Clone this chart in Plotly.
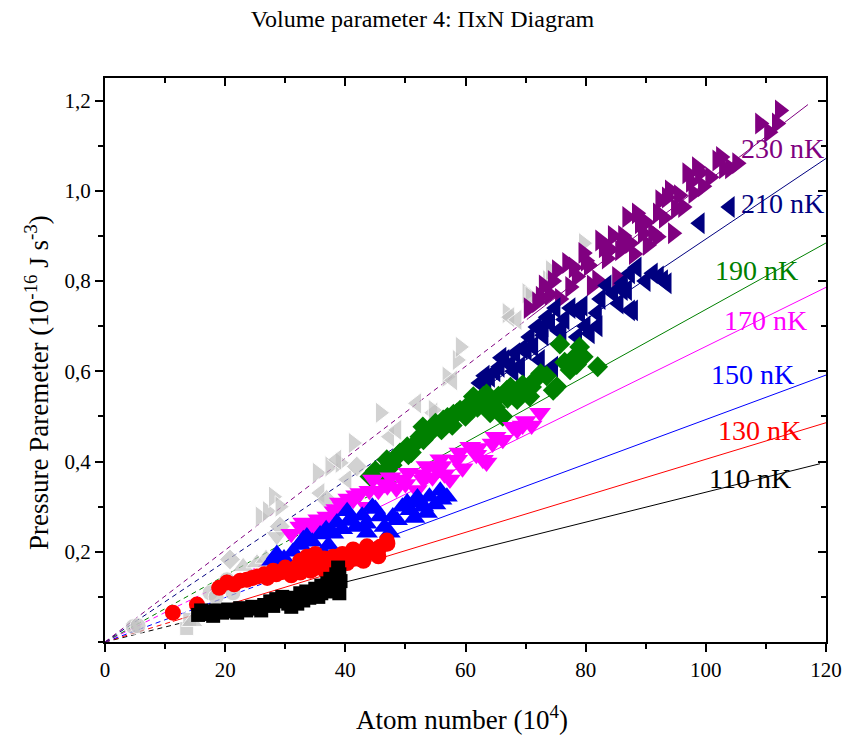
import plotly.graph_objects as go

# ---- data: atom number (10^4) vs pressure parameter (10^-16 J s^-3) ----
temps = ["110 nK", "130 nK", "150 nK", "170 nK", "190 nK", "210 nK", "230 nK"]
colors = ["#000000", "#FF0000", "#0000FF", "#FF00FF", "#008000", "#000080", "#800080"]
symbols = ["square", "circle", "triangle-up", "triangle-down", "diamond", "triangle-left", "triangle-right"]

x_110 = [15.5, 16.5, 17.5, 18.5, 19.5, 20.5, 21.5, 22.5, 23.5, 24.5, 25.5, 26.5, 27.5, 28.5, 29.5, 30.5, 31.0,
         31.5, 32.5, 33.0, 33.5, 34.5, 35.0, 35.5, 36.0, 36.5, 37.0, 37.5, 38.0, 38.5, 38.8, 39.0, 39.2,
         16.0, 18.0, 22.0, 26.0, 28.0, 30.0, 32.0, 34.0, 36.0, 37.8, 39.0]
y_110 = [0.060, 0.068, 0.062, 0.070, 0.065, 0.072, 0.068, 0.075, 0.070, 0.078, 0.074, 0.082, 0.090, 0.095, 0.100,
         0.085, 0.078, 0.098, 0.108, 0.092, 0.112, 0.105, 0.118, 0.100, 0.125, 0.115, 0.130, 0.140, 0.122, 0.150,
         0.165, 0.108, 0.135,
         0.070, 0.058, 0.065, 0.070, 0.080, 0.090, 0.085, 0.098, 0.108, 0.112, 0.150]

x_130 = [11.3, 15.3, 19.0, 20.3, 21.5, 22.5, 23.6, 24.5, 25.3, 26.5, 27.0, 28.5, 29.5, 30.3, 31.0, 31.8, 32.5, 33.0,
         33.6, 34.2, 34.7, 35.3, 35.8, 36.5, 37.2, 38.0, 38.8, 39.5, 40.3, 41.3, 42.0, 42.8, 43.6, 44.6, 45.5, 47.0,
         28.0, 30.0, 32.5, 34.1, 35.0, 36.5, 37.4, 39.0, 41.3, 43.0, 44.0, 45.8, 46.9]
y_130 = [0.065, 0.083, 0.120, 0.132, 0.128, 0.136, 0.138, 0.142, 0.145, 0.150, 0.142, 0.150, 0.155, 0.160, 0.148,
         0.165, 0.154, 0.172, 0.189, 0.158, 0.162, 0.175, 0.167, 0.160, 0.180, 0.189, 0.172, 0.195, 0.175, 0.205,
         0.185, 0.200, 0.212, 0.198, 0.190, 0.218,
         0.158, 0.165, 0.180, 0.183, 0.195, 0.185, 0.160, 0.170, 0.189, 0.180, 0.205, 0.211, 0.225]

x_150 = [27.8, 28.6, 29.8, 31.3, 32.5, 33.6, 34.5, 35.8, 36.3, 37.2, 38.0, 38.6, 39.5, 40.3, 40.8, 41.8, 42.8, 43.5,
         44.5, 45.8, 46.5, 47.4, 48.6, 49.5, 50.8, 51.5, 52.5, 53.6, 54.0, 55.0, 55.8, 56.9,
         33.0, 36.8, 41.0, 43.6, 45.0, 47.9, 50.3, 52.0, 53.0, 56.0]
y_150 = [0.180, 0.195, 0.185, 0.200, 0.215, 0.234, 0.222, 0.238, 0.198, 0.215, 0.240, 0.265, 0.250, 0.290, 0.272,
         0.255, 0.280, 0.262, 0.300, 0.278, 0.255, 0.242, 0.270, 0.300, 0.292, 0.275, 0.310, 0.286, 0.322, 0.305,
         0.335, 0.322,
         0.228, 0.250, 0.268, 0.242, 0.295, 0.278, 0.309, 0.320, 0.300, 0.315]

x_170 = [31.0, 32.5, 33.5, 34.7, 36.0, 37.0, 38.2, 39.1, 39.6, 40.5, 41.3, 42.5, 43.6, 44.6, 45.5, 46.5, 47.5, 48.5,
         49.6, 50.5, 51.9, 52.8, 53.5, 54.5, 55.3, 55.8, 56.5, 57.4, 58.6, 59.5, 60.8, 61.8, 62.9, 63.5, 64.5, 66.2,
         67.9, 68.6, 70.0, 71.0, 72.4,
         33.0, 35.5, 38.5, 41.8, 44.0, 47.0, 50.0, 53.0, 56.0, 59.0, 62.0, 65.0, 69.5]
y_170 = [0.240, 0.256, 0.262, 0.256, 0.270, 0.278, 0.290, 0.309, 0.300, 0.318, 0.315, 0.330, 0.300, 0.360, 0.335,
         0.350, 0.365, 0.340, 0.360, 0.375, 0.337, 0.372, 0.390, 0.365, 0.382, 0.405, 0.372, 0.360, 0.404, 0.385,
         0.433, 0.415, 0.404, 0.398, 0.440, 0.448, 0.477, 0.470, 0.490, 0.480, 0.508,
         0.265, 0.272, 0.295, 0.325, 0.335, 0.345, 0.350, 0.360, 0.390, 0.420, 0.430, 0.455, 0.480]

x_190 = [44.1, 45.0, 46.0, 46.9, 47.8, 48.5, 49.1, 50.3, 51.0, 52.0, 52.4, 52.9, 53.8, 54.5, 55.0, 55.8, 56.3, 57.0,
         57.8, 58.6, 59.1, 60.0, 60.5, 61.3, 62.0, 62.8, 63.5, 64.1, 64.8, 65.5, 66.2, 66.9, 67.5, 68.6, 69.5, 70.7,
         71.5, 72.5, 74.6, 75.2, 75.7, 77.4, 78.2, 79.0, 79.6, 82.0,
         47.5, 50.5, 53.0, 56.0, 58.0, 61.0, 63.0, 65.0, 67.0, 69.0, 71.0, 73.5, 76.5, 78.5]
y_190 = [0.367, 0.380, 0.372, 0.404, 0.392, 0.410, 0.419, 0.433, 0.420, 0.445, 0.455, 0.477, 0.460, 0.470, 0.485,
         0.475, 0.492, 0.498, 0.480, 0.508, 0.514, 0.500, 0.525, 0.544, 0.520, 0.530, 0.550, 0.508, 0.535, 0.545,
         0.500, 0.558, 0.565, 0.537, 0.570, 0.544, 0.580, 0.595, 0.558, 0.566, 0.660, 0.603, 0.632, 0.654, 0.632,
         0.610,
         0.395, 0.415, 0.448, 0.470, 0.505, 0.515, 0.545, 0.520, 0.540, 0.560, 0.565, 0.590, 0.620, 0.615]

x_210 = [62.4, 63.2, 64.1, 65.0, 65.7, 66.5, 67.5, 68.3, 69.1, 70.2, 70.7, 71.3, 71.9, 72.4, 73.0, 73.6, 74.1, 74.6,
         75.5, 76.5, 77.5, 78.6, 78.6, 79.1, 80.0, 80.7, 81.9, 82.5, 84.6, 85.5, 86.2, 86.2, 86.9, 87.4, 87.4, 87.9,
         91.2, 92.2, 92.9, 99.0, 104.0,
         63.5, 66.0, 68.0, 69.5, 73.0, 75.0, 76.0, 79.5, 82.0, 83.5, 88.5, 90.0, 93.5]
y_210 = [0.574, 0.590, 0.588, 0.600, 0.610, 0.625, 0.615, 0.640, 0.610, 0.647, 0.676, 0.655, 0.698, 0.625, 0.680,
         0.720, 0.707, 0.610, 0.690, 0.715, 0.740, 0.676, 0.735, 0.729, 0.700, 0.684, 0.729, 0.760, 0.773, 0.750,
         0.795, 0.780, 0.780, 0.735, 0.817, 0.735, 0.817, 0.810, 0.802, 0.928, 0.964,
         0.575, 0.630, 0.600, 0.650, 0.700, 0.740, 0.690, 0.745, 0.700, 0.790, 0.830, 0.800, 0.795]

x_230 = [70.5, 71.9, 73.0, 74.0, 75.2, 75.7, 76.9, 77.4, 78.5, 79.6, 80.5, 81.0, 81.9, 82.4, 83.5, 84.0, 85.2, 85.7,
         86.2, 86.9, 87.4, 88.0, 89.0, 89.5, 90.3, 91.2, 91.9, 92.4, 93.0, 94.0, 94.5, 95.0, 96.2, 96.9, 97.9, 98.5,
         99.5, 100.7, 101.9, 103.0, 105.2, 109.0, 110.5, 111.8, 112.3,
         72.5, 74.5, 78.0, 80.0, 83.0, 84.5, 86.0, 88.5, 90.0, 92.0, 93.5, 95.5, 97.5, 99.0, 102.5, 104.0]
y_230 = [0.740, 0.753, 0.790, 0.770, 0.824, 0.760, 0.840, 0.787, 0.810, 0.862, 0.835, 0.790, 0.802, 0.890, 0.850,
         0.870, 0.809, 0.868, 0.900, 0.942, 0.884, 0.860, 0.928, 0.906, 0.880, 0.906, 0.898, 0.979, 0.940, 1.001,
         0.906, 0.960, 0.964, 1.039, 0.995, 1.052, 1.010, 1.030, 1.067, 1.050, 1.061, 1.149, 1.130, 1.149, 1.178,
         0.765, 0.800, 0.830, 0.845, 0.875, 0.900, 0.880, 0.950, 0.930, 0.950, 0.985, 0.990, 1.020, 1.040, 1.075,
         1.050]

# points left out of the fits (grey)
x_excl = [4.7, 5.5, 13.6, 14.1, 14.5, 17.5, 18.5, 20.3, 21.3, 20.8, 23.0, 25.3, 26.8, 25.8, 27.0, 28.0, 29.1, 29.1,
          28.6, 35.3, 35.8, 36.9, 37.4, 39.1, 38.6, 40.3, 41.3, 41.9, 45.8, 47.4, 48.6, 51.9, 52.4, 54.6, 54.6, 56.9,
          57.9, 58.6, 59.1, 66.9, 67.4, 68.6, 70.2, 70.7, 73.6, 74.1, 79.6]
y_excl = [0.034, 0.036, 0.030, 0.050, 0.045, 0.109, 0.100, 0.138, 0.109, 0.183, 0.167, 0.175, 0.185, 0.278, 0.290,
          0.322, 0.300, 0.256, 0.234, 0.375, 0.330, 0.315, 0.389, 0.397, 0.404, 0.360, 0.441, 0.389, 0.508, 0.455,
          0.470, 0.529, 0.455, 0.508, 0.514, 0.588, 0.580, 0.625, 0.654, 0.729, 0.720, 0.714, 0.773, 0.765, 0.802,
          0.824, 0.884]
sym_excl = ["circle", "circle", "square", "square", "triangle-up", "circle", "circle", "circle", "circle", "diamond",
            "triangle-up", "triangle-up", "triangle-up", "triangle-right", "triangle-right", "triangle-right",
            "triangle-right", "diamond", "triangle-down", "triangle-right", "triangle-left", "diamond",
            "triangle-right", "triangle-right", "triangle-left", "triangle-left", "triangle-right", "diamond",
            "triangle-right", "triangle-left", "triangle-left", "triangle-left", "diamond", "triangle-left",
            "triangle-right", "triangle-right", "triangle-left", "triangle-right", "triangle-right",
            "triangle-right", "triangle-left", "triangle-left", "triangle-right", "triangle-right",
            "triangle-right", "triangle-right", "triangle-right"]

# linear fits through the origin: slope, start and end of the fitted range
fit_slope = [0.00332, 0.00405, 0.00493, 0.00655, 0.00737, 0.00893, 0.01018]
fit_start = [15.5, 11.3, 27.8, 31.0, 44.1, 62.4, 70.5]
fit_end = [119.0, 120.0, 120.0, 120.0, 120.0, 120.0, 117.0]

# label anchor points
label_x = [107.4, 109.0, 107.7, 110.0, 108.4, 112.8, 112.8]
label_y = [0.362, 0.468, 0.592, 0.713, 0.824, 0.972, 1.094]

xs = [x_110, x_130, x_150, x_170, x_190, x_210, x_230]
ys = [y_110, y_130, y_150, y_170, y_190, y_210, y_230]
sizes = {"square": 14, "circle": 16, "triangle-up": 19, "triangle-down": 19, "diamond": 16,
         "triangle-left": 19, "triangle-right": 19}

FONT = "Liberation Serif, Times New Roman, serif"

fig = go.Figure()

# fit lines: dashed extrapolation to the origin, solid over the fitted range
for k in range(len(temps)):
    s = fit_slope[k]
    fig.add_trace(go.Scatter(x=[0, fit_start[k]], y=[0, s * fit_start[k]], mode="lines",
                             line=dict(color=colors[k], width=1, dash="5px,4px"), hoverinfo="skip"))
    fig.add_trace(go.Scatter(x=[fit_start[k], fit_end[k]], y=[s * fit_start[k], s * fit_end[k]], mode="lines",
                             line=dict(color=colors[k], width=1), hoverinfo="skip"))

# excluded points
fig.add_trace(go.Scatter(x=x_excl, y=y_excl, mode="markers",
                         marker=dict(color="#C0C0C0", symbol=sym_excl, size=[sizes[m] for m in sym_excl])))

# data series, highest temperature first
for k in reversed(range(len(temps))):
    fig.add_trace(go.Scatter(x=xs[k], y=ys[k], mode="markers", name=temps[k],
                             marker=dict(color=colors[k], symbol=symbols[k], size=sizes[symbols[k]])))

# carrier for the mirrored top/right axes
fig.add_trace(go.Scatter(x=[None], y=[None], xaxis="x2", yaxis="y2", hoverinfo="skip"))

for k in range(len(temps)):
    fig.add_annotation(x=label_x[k], y=label_y[k], text=temps[k], showarrow=False,
                       xanchor="center", yanchor="middle",
                       font=dict(family=FONT, size=28, color=colors[k]))

fig.add_annotation(xref="paper", yref="paper", x=-0.095, y=0.46,
                   text="Pressure Paremeter (10<sup>-16</sup> J s<sup>-3</sup>)",
                   textangle=-90, showarrow=False, xanchor="center", yanchor="middle",
                   font=dict(family=FONT, size=27, color="black"))
fig.add_annotation(xref="paper", yref="paper", x=0.495, y=-0.135, text="Atom number (10<sup>4</sup>)",
                   showarrow=False, xanchor="center", yanchor="middle",
                   font=dict(family=FONT, size=27, color="black"))

axis_common = dict(showline=True, linecolor="black", linewidth=2, showgrid=False, zeroline=False,
                   tickcolor="black", tickwidth=2, automargin=False)

fig.update_layout(
    width=845, height=742,
    autosize=False,
    margin=dict(l=105, r=19, t=78, b=100, autoexpand=False),
    paper_bgcolor="white", plot_bgcolor="white",
    showlegend=False,
    font=dict(family=FONT, color="black"),
    title=dict(text="Volume parameter 4: ΠxN Diagram", x=0.5, xanchor="center", y=1 - 19 / 742,
               yanchor="middle", font=dict(family=FONT, size=24, color="black")),
    xaxis=dict(range=[0, 120], tickvals=[0, 20, 40, 60, 80, 100, 120], ticks="outside", ticklen=8,
               minor=dict(ticks="outside", ticklen=5, tickmode="linear", tick0=0, dtick=10,
                          tickcolor="black", tickwidth=2),
               tickfont=dict(family=FONT, size=21, color="black"), **axis_common),
    yaxis=dict(range=[0, 1.25], tickvals=[0.2, 0.4, 0.6, 0.8, 1.0, 1.2],
               ticktext=["0,2", "0,4", "0,6", "0,8", "1,0", "1,2"], ticks="outside", ticklen=8,
               minor=dict(ticks="outside", ticklen=5, tickmode="linear", tick0=0, dtick=0.1,
                          tickcolor="black", tickwidth=2),
               tickfont=dict(family=FONT, size=21, color="black"), **axis_common),
    xaxis2=dict(range=[0, 120], overlaying="x", side="top", anchor="y2", tickvals=[0, 20, 40, 60, 80, 100, 120],
                ticks="inside", ticklen=8, showticklabels=False,
                minor=dict(ticks="inside", ticklen=5, tickmode="linear", tick0=0, dtick=10,
                           tickcolor="black", tickwidth=2), **axis_common),
    yaxis2=dict(range=[0, 1.25], overlaying="y", side="right", anchor="x2", tickvals=[0.2, 0.4, 0.6, 0.8, 1.0, 1.2],
                ticks="inside", ticklen=8, showticklabels=False,
                minor=dict(ticks="inside", ticklen=5, tickmode="linear", tick0=0, dtick=0.1,
                           tickcolor="black", tickwidth=2), **axis_common),
)

fig.write_html("out.html")
